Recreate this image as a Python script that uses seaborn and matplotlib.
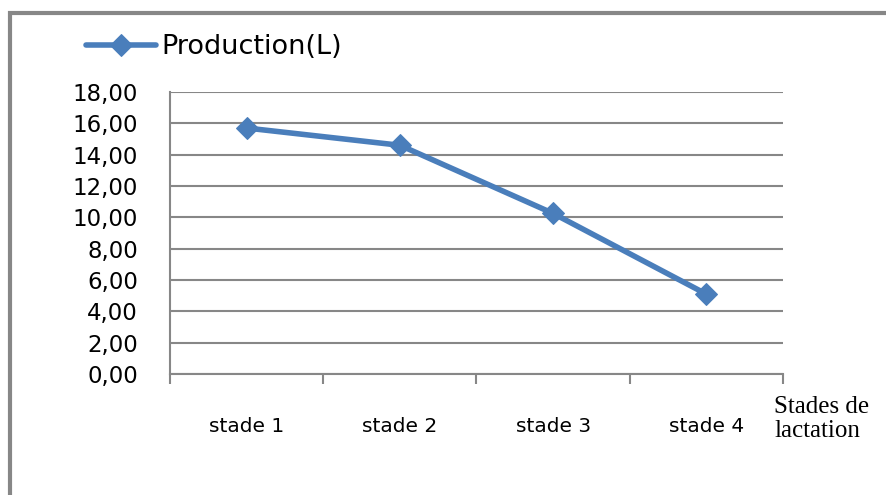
import numpy as np
import pandas as pd
import seaborn as sns
import matplotlib.pyplot as plt
from matplotlib.patches import Rectangle
from matplotlib.ticker import FuncFormatter

# Data
stades = ['stade 1', 'stade 2', 'stade 3', 'stade 4']
production = [15.7, 14.6, 10.25, 5.1]
yticks = [0, 2, 4, 6, 8, 10, 12, 14, 16, 18]

df = pd.DataFrame({'stade': stades, 'production': production})
df['pos'] = np.arange(len(stades))

sns.set_style('white')
plt.rcParams['font.family'] = ['DejaVu Sans']
plt.rcParams['text.color'] = 'black'
plt.rcParams['xtick.color'] = 'black'
plt.rcParams['ytick.color'] = 'black'

grey = '#878787'
blue = '#4a7ebb'

fig = plt.figure(figsize=(8.87, 4.95), dpi=100)
ax = fig.add_axes([170/887, 1 - 374/495, (783 - 170)/887, (374 - 92)/495])

sns.lineplot(data=df, x='pos', y='production', ax=ax, color=blue, linewidth=4,
             marker='D', markersize=11, markeredgecolor=blue, label='Production(L)')

# y axis
ax.set_ylim(0, 18)
ax.set_yticks(yticks)
ax.yaxis.set_major_formatter(FuncFormatter(lambda v, p: '{:.2f}'.format(v).replace('.', ',')))
ax.yaxis.grid(True, color=grey, linewidth=1.5)
ax.tick_params(axis='y', length=7, width=1.5, color=grey, labelcolor='black',
               direction='out', pad=16, labelsize=16.5)

# x axis: boundary ticks, labels in between
ax.set_xlim(-0.5, 3.5)
ax.set_xticks(np.arange(-0.5, 4, 1))
ax.set_xticklabels([])
ax.set_xticks(df['pos'], minor=True)
ax.set_xticklabels(stades, minor=True)
ax.tick_params(axis='x', which='major', length=7, width=1.5, color=grey, direction='out', bottom=True)
ax.tick_params(axis='x', which='minor', length=0, pad=31, labelsize=14.5, labelcolor='black')
ax.set_xlabel('')
ax.set_ylabel('')

for s in ['top', 'right']:
    ax.spines[s].set_visible(False)
for s in ['left', 'bottom']:
    ax.spines[s].set_color(grey)
    ax.spines[s].set_linewidth(1.5)

leg = ax.legend(loc='center left', bbox_to_anchor=(86/887, 1 - 47/495), bbox_transform=fig.transFigure,
                frameon=False, fontsize=19.5, handlelength=2.6, handletextpad=0.2, borderaxespad=0,
                borderpad=0)
for t in leg.get_texts():
    t.set_color('black')

fig.text(774/887, 1 - 396/495, 'Stades de\nlactation', family='Liberation Serif',
         fontsize=18, va='top', ha='left', linespacing=1.1, color='black')

# outer chart border
fig.patches.append(Rectangle((10/887, -0.05), 1.0, 1 - 13/495 + 0.05, transform=fig.transFigure,
                             fill=False, edgecolor=grey, linewidth=3))

fig.savefig('out.png', dpi=100)
